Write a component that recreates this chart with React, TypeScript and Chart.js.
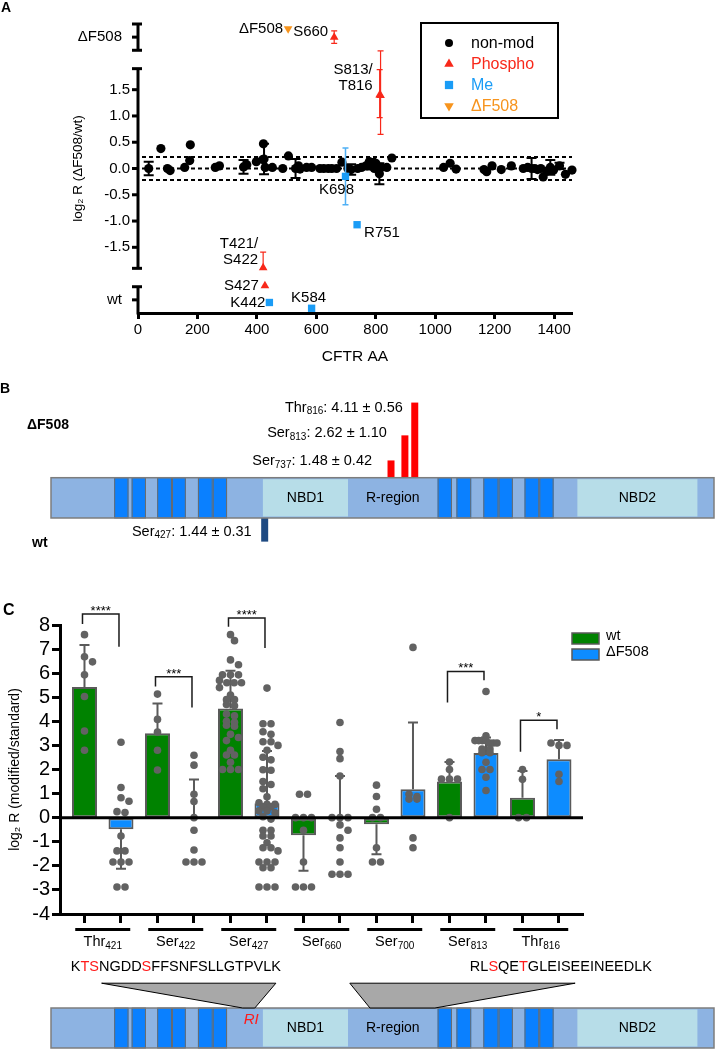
import React, { useEffect, useRef } from 'react';
import { Chart, registerables } from 'chart.js';

Chart.register(...registerables);

const FONT = "'Liberation Sans', Arial, Helvetica, sans-serif";

/* ================= Panel A data ================= */
const nonModResidue = [
  36, 77, 99, 108, 157, 174, 176, 260,
  274, 355, 366, 398, 420, 422, 424, 428,
  452, 487, 506, 530, 540, 545, 567, 584,
  612, 625, 640, 652, 668, 686, 706, 717,
  739, 752, 767, 778, 785, 795, 800, 812,
  818, 837, 854, 1028, 1050, 1070, 1164, 1173,
  1191, 1222, 1256, 1296, 1311, 1324, 1335, 1344,
  1355, 1363, 1375, 1387, 1398, 1418, 1438, 1460,
];
const nonModLog2R = [
  0.0, 0.38, 0.0, -0.04, 0.02, 0.15, 0.45, 0.02,
  0.05, 0.03, 0.07, 0.13, 0.17, 0.47, 0.18, 0.02,
  0.02, 0.0, 0.24, 0.0, 0.05, -0.01, 0.02, 0.02,
  0.0, 0.0, 0.0, 0.0, 0.0, 0.12, 0.0, -0.02,
  0.0, 0.02, 0.05, 0.13, 0.08, 0.0, 0.1, -0.1,
  0.02, 0.02, 0.2, 0.02, 0.1, -0.01, -0.02, -0.06,
  0.05, -0.02, 0.05, 0.0, 0.02, 0.0, 0.0, -0.02,
  0.0, -0.16, -0.05, 0.02, -0.03, 0.05, -0.11, -0.03,
];
const nonModSD = [
  0.13, 0, 0, 0, 0, 0, 0, 0,
  0, 0.13, 0, 0, 0, 0, 0.29, 0,
  0, 0, 0, 0.18, 0, 0, 0, 0,
  0, 0, 0, 0, 0, 0, 0, 0.1,
  0, 0, 0, 0, 0.1, 0, 0, 0.2,
  0, 0, 0, 0, 0, 0, 0, 0,
  0, 0, 0, 0, 0, 0.2, 0, 0,
  0, 0, 0, 0.14, 0, 0.06, 0, 0,
];

const phosphoResidue = [421, 427, 660, 813, 816];
const phosphoLog2R = [-1.89, -2.23, 2.5, 1.4, 1.39];
const phosphoErrLow = [0, 0, 0.12, 0.43, 0.74];
const phosphoErrHigh = [0.3, 0, 0.12, 0.48, 0.85];

const meResidue = [442, 584, 698, 737];
const meLog2R = [-2.55, -2.66, -0.15, -1.07];
const meErr = [0.05, 0, 0.54, 0];

const df508Residue = [505];
const df508Log2R = [2.66];

const aYTicks = [-1.5, -1, -0.5, 0, 0.5, 1, 1.5];
const aThresholds = [-0.22, 0, 0.22];
const aAxisSegLow = [-2.75, -1.9, 2.25];
const aAxisSegHigh = [-2.25, 1.9, 2.75];
const aBandMid = [-2.5, 2.5];
const aBandLabels = ['wt', 'ΔF508'];

const aLabelText = [['ΔF508'], ['S660'], ['S813/', 'T816'], ['T421/', 'S422'], ['S427'], ['K442'], ['K584'], ['K698'], ['R751']];
const aLabelDataset = [3, 1, 1, 1, 1, 2, 2, 2, 2];
const aLabelPoint = [0, 2, 3, 0, 1, 0, 1, 2, 3];
// label placement (style)
const aLabelDx = [-5, -6, -7, -5, -6, -4, -3, -9, 7];
const aLabelDy = [0, -5, -25, -24, 0, 0, -10, 13, 8];
const aLabelAlign = ['right', 'right', 'right', 'right', 'right', 'right', 'center', 'center', 'left'];

/* ================= Domain diagram data ================= */
const proteinLength = 1480;
const tmStart = [141, 180, 237, 270, 328, 361, 863, 905, 965, 999, 1057, 1090];
const tmEnd = [173, 212, 270, 301, 361, 393, 895, 938, 999, 1031, 1090, 1122];
const domainName = ['NBD1', 'R-region', 'NBD2'];
const domainStart = [473, 663, 1175];
const domainEnd = [663, 863, 1443];
const domainPale = [true, false, true];

/* ================= Panel B data ================= */
const bDfSite = ['Ser', 'Ser', 'Thr'];
const bDfNum = [737, 813, 816];
const bDfMean = [1.48, 2.62, 4.11];
const bDfSD = [0.42, 1.1, 0.56];
const bDfPos = [759, 790, 812];
const bWtSite = ['Ser'];
const bWtNum = [427];
const bWtMean = [1.44];
const bWtSD = [0.31];
const bWtPos = [477];
const B_WT_BASE = -0.77;
const bDfLabelDx = [-19, -18, -12];
const bDfLabelDy = [1, -2, 5];

/* ================= Panel C data ================= */
const cSiteName = ['Thr', 'Ser', 'Ser', 'Ser', 'Ser', 'Ser', 'Thr'];
const cSiteNum = [421, 422, 427, 660, 700, 813, 816];
const wtMean = [5.43, 3.51, 4.53, -0.73, -0.27, 1.5, 0.83];
const wtSD = [1.74, 1.23, 1.57, 1.47, 1.25, 0.81, 1.11];
const dfMean = [-0.48, 0.0, 0.6, 0.0, 1.18, 2.68, 2.43];
const dfSD = [1.64, 1.58, 2.17, 1.73, 2.77, 0.65, 0.8];
const wtDots = [
  [7.6, 6.68, 6.47, 5.93, 5.03, 3.6, 2.8],
  [5.13, 4.08, 3.55, 2.8, 1.98],
  [7.6, 7.35, 6.55, 6.35, 5.93, 5.93, 5.93, 5.7, 5.6, 5.6, 5.6, 5.4, 5.09, 4.9, 4.9, 4.7, 4.65, 4.3, 4.23, 4.0, 3.96, 3.84, 3.8, 3.46, 3.33, 3.2, 2.8, 2.6, 2.6, 2.3, 2.0, 2.0, 2.0],
  [0.97, 0.97, 0, 0, 0, -0.52, -1.84, -2.88, -2.88, -2.88],
  [1.35, 0.88, 0.35, 0, 0, -1.25, -1.84, -1.84],
  [2.31, 2.0, 1.6, 1.6, 1.6, 0],
  [2.0, 1.59, 0, 0],
];
const dfDots = [
  [3.13, 1.25, 0.83, 0.68, 0.25, 0.21, -0.76, -1.38, -1.38, -1.84, -1.84, -1.84, -2.88, -2.88],
  [2.59, 2.18, 0.97, 0.67, 0, -0.52, -1.34, -1.84, -1.84, -1.84],
  [5.38, 3.9, 3.9, 3.57, 3.46, 3.15, 3.15, 3.0, 2.8, 2.51, 2.4, 1.99, 1.97, 1.5, 1.38, 1.2, 0.87, 0.62, 0.55, 0.55, 0.45, 0.45, 0.28, 0.28, 0.2, 0.04, -0.06, -0.52, -0.52, -0.76, -0.76, -1.04, -1.25, -1.25, -1.38, -1.84, -1.84, -1.84, -2.08, -2.08, -2.88, -2.88, -2.88],
  [3.95, 2.75, 2.45, 1.73, 0, 0, 0, -0.3, -0.52, -0.84, -1.25, -1.84, -2.35, -2.35, -2.35],
  [7.07, 0.97, 0.88, 0.77, 0.77, -0.84, -1.25],
  [5.24, 3.4, 3.2, 3.2, 3.2, 3.2, 3.1, 3.1, 3.1, 2.85, 2.85, 2.7, 2.7, 2.3, 2.0, 2.0, 1.68, 1.13],
  [3.1, 3.0, 3.0, 1.8, 1.5],
];
const sigFrom = [0, 2, 4, 10, 12];
const sigTo = [1, 3, 5, 11, 13];
const sigStars = ['****', '***', '****', '***', '*'];
const sigTop = [8.46, 5.85, 8.29, 6.07, 4.05];
const sigLegFrom = [8.04, 5.45, 7.93, 4.78, 2.74];
const sigLegTo = [7.1, 4.57, 7.04, 5.71, 3.67];

const peptideSeq = ['KTSNGDDSFFSNFSLLGTPVLK', 'RLSQETGLEISEEINEEDLK'];
const peptideRed = [[1, 2, 7], [2, 5]];
const peptideTextStart = [44, 935];
const peptideTopStart = [113, 667];
const peptideTopEnd = [502, 1170];
const peptideBottomStart = [428, 712];
const peptideBottomEnd = [455, 857];

/* ================= colours ================= */
const RED = '#f8281a';
const ME_BLUE = '#1a9cf6';
const ORANGE = '#f7941d';
const LIGHT = '#8db3e2';
const DARK = '#0a80ff';
const PALE = '#b7dde8';
const GREEN = '#008200';
const DF_BLUE = '#0d8cff';
const DOT = '#626262';
const EDGE = '#5a5a5a';

/* ================= helpers ================= */
type Part = { t: string; sub?: boolean; color?: string; italic?: boolean; bold?: boolean };
function drawParts(ctx: any, parts: Part[], x: number, y: number, size: number, align: string) {
  const subSize = Math.round(size * 0.68);
  const fontFor = (p: Part) => `${p.italic ? 'italic ' : ''}${p.bold ? 'bold ' : ''}${p.sub ? subSize : size}px ${FONT}`;
  let total = 0;
  for (const p of parts) {
    ctx.font = fontFor(p);
    total += ctx.measureText(p.t).width;
  }
  let cx = align === 'left' ? x : align === 'center' ? x - total / 2 : x - total;
  ctx.textAlign = 'left';
  ctx.textBaseline = 'middle';
  for (const p of parts) {
    ctx.font = fontFor(p);
    ctx.fillStyle = p.color || '#000';
    ctx.fillText(p.t, cx, p.sub ? y + size * 0.28 : y);
    cx += ctx.measureText(p.t).width;
  }
}

function drawMarker(ctx: any, style: string, rot: number, x: number, y: number, r: number, color: string) {
  ctx.fillStyle = color;
  ctx.beginPath();
  if (style === 'circle') {
    ctx.arc(x, y, r, 0, Math.PI * 2);
  } else if (style === 'rect') {
    const s = r * 0.75;
    ctx.rect(x - s, y - s, 2 * s, 2 * s);
  } else {
    const d = rot === 180 ? -1 : 1;
    ctx.moveTo(x, y - d * r);
    ctx.lineTo(x + r * 0.866, y + d * r * 0.5);
    ctx.lineTo(x - r * 0.866, y + d * r * 0.5);
    ctx.closePath();
  }
  ctx.fill();
}

const C_PX_X = 36.5;
const C_PX_Y = 24.1;
function swarm(values: number[], center: number) {
  const sorted = [...values].sort((a, b) => b - a);
  const placed: { px: number; py: number }[] = [];
  const out: { x: number; y: number }[] = [];
  let i = 0;
  while (i < sorted.length) {
    let j = i;
    while (j + 1 < sorted.length && (sorted[i] - sorted[j + 1]) * C_PX_Y < 3) j++;
    const n = j - i + 1;
    if (n > 1) {
      const step = Math.min(8, 22 / (n - 1));
      for (let k = 0; k < n; k++) {
        const dx = (k - (n - 1) / 2) * step;
        placed.push({ px: dx, py: sorted[i + k] * C_PX_Y });
        out.push({ x: center + dx / C_PX_X, y: sorted[i + k] });
      }
    } else {
      const py = sorted[i] * C_PX_Y;
      const cands = [0, 4, -4, 8, -8, 11, -11];
      let best = 0;
      let bestD = -1;
      for (const c of cands) {
        let d = Infinity;
        for (const p of placed) d = Math.min(d, Math.hypot(p.px - c, p.py - py));
        if (d >= 7) { best = c; break; }
        if (d > bestD) { bestD = d; best = c; }
      }
      placed.push({ px: best, py });
      out.push({ x: center + best / C_PX_X, y: sorted[i] });
    }
    i = j + 1;
  }
  return out;
}

/* ================= plugins ================= */
const aDecorPlugin = {
  id: 'aDecor',
  beforeDatasetsDraw(chart: any) {
    const { ctx, chartArea: ca, scales: { y } } = chart;
    ctx.save();
    ctx.strokeStyle = '#000';
    ctx.lineWidth = 2;
    ctx.setLineDash([4, 3]);
    aThresholds.forEach((v) => {
      const py = y.getPixelForValue(v);
      ctx.beginPath();
      ctx.moveTo(ca.left + 4, py);
      ctx.lineTo(ca.right, py);
      ctx.stroke();
    });
    ctx.setLineDash([]);
    const ax = ca.left;
    ctx.lineWidth = 3;
    aAxisSegLow.forEach((lo, i) => {
      const hi = aAxisSegHigh[i];
      ctx.beginPath();
      ctx.moveTo(ax, y.getPixelForValue(lo) + (lo <= y.min ? 1.5 : 0));
      ctx.lineTo(ax, y.getPixelForValue(hi));
      ctx.stroke();
      [lo, hi].forEach((v) => {
        if (v <= y.min) return;
        const p = y.getPixelForValue(v);
        ctx.beginPath();
        ctx.moveTo(ax - 6, p);
        ctx.lineTo(ax + 4, p);
        ctx.stroke();
      });
    });
    [...aYTicks, ...aBandMid].forEach((v) => {
      const p = y.getPixelForValue(v);
      ctx.beginPath();
      ctx.moveTo(ax - 6, p);
      ctx.lineTo(ax, p);
      ctx.stroke();
    });
    ctx.fillStyle = '#000';
    ctx.font = `15px ${FONT}`;
    ctx.textAlign = 'right';
    ctx.textBaseline = 'middle';
    aBandMid.forEach((v, i) => ctx.fillText(aBandLabels[i], ax - 16, y.getPixelForValue(v)));
    ctx.restore();
  },
  beforeDatasetDraw(chart: any, args: any) {
    const ds = chart.data.datasets[args.index];
    if (!ds.errLow) return;
    const { ctx, scales: { y } } = chart;
    ctx.save();
    ctx.strokeStyle = ds.errColor;
    ctx.lineWidth = ds.errWidth;
    args.meta.data.forEach((el: any, i: number) => {
      const lo = ds.errLow[i] || 0;
      const hi = ds.errHigh[i] || 0;
      if (!lo && !hi) return;
      const v = ds.data[i].y;
      const pTop = y.getPixelForValue(v + hi);
      const pBot = y.getPixelForValue(v - lo);
      const c = ds.errCap;
      ctx.beginPath();
      ctx.moveTo(el.x, pBot);
      ctx.lineTo(el.x, pTop);
      if (hi) { ctx.moveTo(el.x - c, pTop); ctx.lineTo(el.x + c, pTop); }
      if (lo) { ctx.moveTo(el.x - c, pBot); ctx.lineTo(el.x + c, pBot); }
      ctx.stroke();
    });
    ctx.restore();
  },
  afterDraw(chart: any) {
    const { ctx, chartArea: ca } = chart;
    ctx.save();
    aLabelText.forEach((lines, k) => {
      const el = chart.getDatasetMeta(aLabelDataset[k]).data[aLabelPoint[k]];
      ctx.font = `15px ${FONT}`;
      ctx.fillStyle = '#000';
      ctx.textAlign = aLabelAlign[k];
      ctx.textBaseline = 'middle';
      lines.forEach((ln, li) => ctx.fillText(ln, el.x + aLabelDx[k], el.y + aLabelDy[k] + li * 16));
    });
    const bx = ca.left + 283;
    const by = ca.top - 1;
    ctx.lineWidth = 2;
    ctx.strokeStyle = '#000';
    ctx.strokeRect(bx, by, 137, 95);
    chart.data.datasets.forEach((ds: any, i: number) => {
      const ry = by + 20 + i * 21;
      drawMarker(ctx, ds.pointStyle, ds.pointRotation || 0, bx + 28, ry, ds.pointStyle === 'circle' ? 4 : 5.5, ds.backgroundColor);
      ctx.font = `16px ${FONT}`;
      ctx.fillStyle = ds.legendColor;
      ctx.textAlign = 'left';
      ctx.textBaseline = 'middle';
      ctx.fillText(ds.label, bx + 50, ry + 1);
    });
    ctx.restore();
  },
};

const domainPlugin = {
  id: 'domainBar',
  afterDatasetsDraw(chart: any, _args: any, opts: any) {
    const { ctx, scales: { x, y } } = chart;
    const top = y.getPixelForValue(opts.yTop);
    const bot = y.getPixelForValue(opts.yBottom);
    const h = bot - top;
    const X = (v: number) => x.getPixelForValue(v);
    ctx.save();
    ctx.fillStyle = LIGHT;
    ctx.fillRect(X(0), top, X(proteinLength) - X(0), h);
    domainName.forEach((_n, i) => {
      if (!domainPale[i]) return;
      ctx.fillStyle = PALE;
      ctx.fillRect(X(domainStart[i]), top + 1.5, X(domainEnd[i]) - X(domainStart[i]), h - 3);
    });
    tmStart.forEach((s, i) => {
      ctx.fillStyle = DARK;
      ctx.fillRect(X(s), top, X(tmEnd[i]) - X(s), h);
      ctx.strokeStyle = '#6b6b6b';
      ctx.lineWidth = 1;
      ctx.strokeRect(X(s) + 0.5, top, X(tmEnd[i]) - X(s) - 1, h);
    });
    ctx.strokeStyle = '#7d7d7d';
    ctx.lineWidth = 1.5;
    ctx.strokeRect(X(0), top, X(proteinLength) - X(0), h);
    domainName.forEach((n, i) => {
      drawParts(ctx, [{ t: n }], (X(domainStart[i]) + X(domainEnd[i])) / 2, top + h / 2, 14, 'center');
    });
    ctx.restore();
  },
};

const bLabelPlugin = {
  id: 'bLabels',
  afterDraw(chart: any) {
    const { ctx } = chart;
    ctx.save();
    const dfMeta = chart.getDatasetMeta(0);
    dfMeta.data.forEach((el: any, i: number) => {
      drawParts(ctx, [{ t: bDfSite[i] }, { t: String(bDfNum[i]), sub: true }, { t: `: ${bDfMean[i].toFixed(2)} ± ${bDfSD[i].toFixed(2)}` }],
        el.x + bDfLabelDx[i], el.y + bDfLabelDy[i], 14.5, 'right');
    });
    const wtMeta = chart.getDatasetMeta(1);
    wtMeta.data.forEach((el: any, i: number) => {
      drawParts(ctx, [{ t: bWtSite[i] }, { t: String(bWtNum[i]), sub: true }, { t: `: ${bWtMean[i].toFixed(2)} ± ${bWtSD[i].toFixed(2)}` }],
        el.x - 13, el.y - 10, 14.5, 'right');
    });
    drawParts(ctx, [{ t: 'ΔF508', bold: true }], 27, 55, 14, 'left');
    drawParts(ctx, [{ t: 'wt', bold: true }], 32, 173, 14, 'left');
    ctx.restore();
  },
};

const cDecorPlugin = {
  id: 'cDecor',
  afterDatasetDraw(chart: any, args: any) {
    const ds = chart.data.datasets[args.index];
    if (!ds.sd) return;
    const { ctx, scales: { y } } = chart;
    ctx.save();
    ctx.strokeStyle = EDGE;
    ctx.lineWidth = 2;
    args.meta.data.forEach((el: any, i: number) => {
      const m = ds.data[i].y;
      const dir = m < 0 ? -1 : 1;
      const p0 = y.getPixelForValue(m);
      const p1 = y.getPixelForValue(m + dir * ds.sd[i]);
      ctx.beginPath();
      ctx.moveTo(el.x, p0);
      ctx.lineTo(el.x, p1);
      ctx.moveTo(el.x - 5, p1);
      ctx.lineTo(el.x + 5, p1);
      ctx.stroke();
    });
    ctx.restore();
  },
  afterDatasetsDraw(chart: any) {
    const { ctx, chartArea: ca, scales: { x, y } } = chart;
    ctx.save();
    ctx.strokeStyle = '#000';
    ctx.lineWidth = 3;
    const p0 = y.getPixelForValue(0);
    ctx.beginPath();
    ctx.moveTo(ca.left, p0);
    ctx.lineTo(ca.right, p0);
    ctx.stroke();
    ctx.lineWidth = 1.5;
    ctx.strokeStyle = '#1a1a1a';
    sigFrom.forEach((a, k) => {
      const xa = x.getPixelForValue(a) - 2;
      const xb = x.getPixelForValue(sigTo[k]) - 2;
      const yt = y.getPixelForValue(sigTop[k]);
      ctx.beginPath();
      ctx.moveTo(xa, y.getPixelForValue(sigLegFrom[k]));
      ctx.lineTo(xa, yt);
      ctx.lineTo(xb, yt);
      ctx.lineTo(xb, y.getPixelForValue(sigLegTo[k]));
      ctx.stroke();
      ctx.font = `13px ${FONT}`;
      ctx.fillStyle = '#000';
      ctx.textAlign = 'center';
      ctx.textBaseline = 'alphabetic';
      ctx.fillText(sigStars[k], (xa + xb) / 2, yt + 1);
    });
    ctx.restore();
  },
  afterDraw(chart: any) {
    const { ctx, chartArea: ca, scales: { x } } = chart;
    ctx.save();
    cSiteName.forEach((n, g) => {
      const cx = x.getPixelForValue(2 * g + 0.5);
      ctx.strokeStyle = '#000';
      ctx.lineWidth = 3;
      ctx.beginPath();
      ctx.moveTo(cx - 27.5, ca.bottom + 15.5);
      ctx.lineTo(cx + 27.5, ca.bottom + 15.5);
      ctx.stroke();
      drawParts(ctx, [{ t: n }, { t: String(cSiteNum[g]), sub: true }], cx, ca.bottom + 28, 14.5, 'center');
    });
    const bars = chart.data.datasets.filter((d: any) => d.type === 'bar');
    bars.forEach((ds: any, i: number) => {
      const sy = 43 + i * 16;
      ctx.fillStyle = ds.backgroundColor;
      ctx.fillRect(572, sy, 27, 11);
      ctx.strokeStyle = EDGE;
      ctx.lineWidth = 1.5;
      ctx.strokeRect(572, sy, 27, 11);
      drawParts(ctx, [{ t: ds.label }], 606, sy + 3, 14.5, 'left');
    });
    ctx.restore();
  },
};

const seqPlugin = {
  id: 'seq',
  afterDraw(chart: any) {
    const { ctx, scales: { x, y } } = chart;
    ctx.save();
    const yTop = y.getPixelForValue(1.62);
    const yBot = y.getPixelForValue(1);
    peptideTopStart.forEach((s, i) => {
      ctx.beginPath();
      ctx.moveTo(x.getPixelForValue(s), yTop);
      ctx.lineTo(x.getPixelForValue(peptideTopEnd[i]), yTop);
      ctx.lineTo(x.getPixelForValue(peptideBottomEnd[i]), yBot);
      ctx.lineTo(x.getPixelForValue(peptideBottomStart[i]), yBot);
      ctx.closePath();
      ctx.fillStyle = '#a8a8a8';
      ctx.fill();
      ctx.strokeStyle = '#000';
      ctx.lineWidth = 1;
      ctx.stroke();
    });
    peptideSeq.forEach((seq, i) => {
      const parts = seq.split('').map((ch, k) => ({ t: ch, color: peptideRed[i].includes(k) ? '#ff1a1a' : '#000' }));
      drawParts(ctx, parts, x.getPixelForValue(peptideTextStart[i]), y.getPixelForValue(2.03), 14.5, 'left');
    });
    drawParts(ctx, [{ t: 'RI', italic: true, color: '#ff1a1a' }], x.getPixelForValue(447), y.getPixelForValue(0.7), 15, 'center');
    ctx.restore();
  },
};

/* ================= configs ================= */
const noPlugins = { legend: { display: false }, tooltip: { enabled: false } };

function configA(): any {
  return {
    type: 'scatter',
    data: {
      datasets: [
        {
          label: 'non-mod', data: nonModResidue.map((r, i) => ({ x: r, y: nonModLog2R[i] })),
          pointStyle: 'circle', pointRadius: 4.6, backgroundColor: '#000', borderWidth: 0, legendColor: '#000',
          errLow: nonModSD, errHigh: nonModSD, errColor: '#000', errWidth: 2, errCap: 5, order: 3, clip: false,
        },
        {
          label: 'Phospho', data: phosphoResidue.map((r, i) => ({ x: r, y: phosphoLog2R[i] })),
          pointStyle: 'triangle', pointRadius: 5, backgroundColor: RED, borderWidth: 0, legendColor: RED,
          errLow: phosphoErrLow, errHigh: phosphoErrHigh, errColor: RED, errWidth: 1.2, errCap: 3, order: 2, clip: false,
        },
        {
          label: 'Me', data: meResidue.map((r, i) => ({ x: r, y: meLog2R[i] })),
          pointStyle: 'rect', pointRadius: 5.2, backgroundColor: ME_BLUE, borderWidth: 0, legendColor: ME_BLUE,
          errLow: meErr, errHigh: meErr, errColor: '#4fb0f5', errWidth: 1.5, errCap: 3, order: 1, clip: false,
        },
        {
          label: 'ΔF508', data: df508Residue.map((r, i) => ({ x: r, y: df508Log2R[i] })),
          pointStyle: 'triangle', pointRotation: 180, pointRadius: 5, backgroundColor: ORANGE, borderWidth: 0,
          legendColor: ORANGE, order: 0, clip: false,
        },
      ],
    },
    options: {
      responsive: false, animation: false, devicePixelRatio: 1, events: [],
      layout: { padding: { top: 24, right: 143, bottom: 0, left: 0 } },
      plugins: noPlugins,
      scales: {
        x: {
          type: 'linear', min: 0, max: 1460,
          border: { display: true, color: '#000', width: 3 },
          grid: { display: true, drawOnChartArea: false, drawTicks: true, tickLength: 6, tickWidth: 3, tickColor: '#000', color: '#000' },
          ticks: { stepSize: 200, includeBounds: false, font: { family: FONT, size: 15 }, color: '#000', padding: 2, maxRotation: 0, autoSkip: false, callback: (v: any) => String(v) },
          title: { display: true, text: 'CFTR AA', font: { family: FONT, size: 15.5 }, color: '#000', padding: { top: 0, bottom: 4 } },
          afterFit: (s: any) => { s.height = 57; },
        },
        y: {
          type: 'linear', min: -2.75, max: 2.75,
          border: { display: false },
          grid: { display: false, drawTicks: false },
          afterBuildTicks: (s: any) => { s.ticks = aYTicks.map((v) => ({ value: v })); },
          ticks: { font: { family: FONT, size: 15 }, color: '#000', padding: 8, autoSkip: false, callback: (v: any) => Number(v).toFixed(1) },
          title: { display: true, text: 'log₂ R (ΔF508/wt)', font: { family: FONT, size: 13.5 }, color: '#000', padding: { top: 70, bottom: 0 } },
          afterFit: (s: any) => { s.width = 138; },
        },
      },
    },
    plugins: [aDecorPlugin],
  };
}

function configB(): any {
  return {
    type: 'bar',
    data: {
      datasets: [
        {
          label: 'ΔF508', data: bDfPos.map((p, i) => ({ x: p, y: [0, bDfMean[i]] })),
          backgroundColor: '#ff0000', borderWidth: 0, grouped: false, maxBarThickness: 7,
        },
        {
          label: 'wt', data: bWtPos.map((p, i) => ({ x: p, y: [B_WT_BASE, B_WT_BASE - bWtMean[i]] })),
          backgroundColor: '#1e4a82', borderWidth: 0, grouped: false, maxBarThickness: 7,
        },
      ],
    },
    options: {
      responsive: false, animation: false, devicePixelRatio: 1, events: [],
      layout: { padding: { top: 13, right: 1, bottom: 12, left: 51 } },
      plugins: { ...noPlugins, domainBar: { yTop: 0.695, yBottom: -1.136 } },
      scales: {
        x: { type: 'linear', min: 0, max: proteinLength, display: false, offset: false, grid: { offset: false } },
        y: { type: 'linear', min: -2.5, max: 5, display: false, stacked: false },
      },
    },
    plugins: [domainPlugin, bLabelPlugin],
  };
}

function configC(): any {
  const wtPts = wtDots.flatMap((vals, g) => swarm(vals, 2 * g));
  const dfPts = dfDots.flatMap((vals, g) => swarm(vals, 2 * g + 1));
  return {
    type: 'bar',
    data: {
      datasets: [
        { type: 'scatter', label: 'wt values', data: wtPts, pointRadius: 3.8, backgroundColor: DOT, borderWidth: 0, order: 0, clip: false },
        { type: 'scatter', label: 'ΔF508 values', data: dfPts, pointRadius: 3.8, backgroundColor: DOT, borderWidth: 0, order: 0, clip: false },
        {
          type: 'bar', label: 'wt', data: wtMean.map((m, g) => ({ x: 2 * g, y: m })), sd: wtSD,
          backgroundColor: GREEN, borderColor: EDGE, borderWidth: 2, borderSkipped: false, grouped: false, maxBarThickness: 25, order: 1,
        },
        {
          type: 'bar', label: 'ΔF508', data: dfMean.map((m, g) => ({ x: 2 * g + 1, y: m })), sd: dfSD,
          backgroundColor: DF_BLUE, borderColor: EDGE, borderWidth: 2, borderSkipped: false, grouped: false, maxBarThickness: 25, order: 1,
        },
      ],
    },
    options: {
      responsive: false, animation: false, devicePixelRatio: 1, events: [],
      layout: { padding: { top: 35, right: 132, bottom: 0, left: 0 } },
      plugins: noPlugins,
      scales: {
        x: {
          type: 'linear', min: -0.671, max: 13.658, offset: false,
          border: { display: true, color: '#000', width: 3 },
          grid: { display: true, offset: false, drawOnChartArea: false, drawTicks: true, tickLength: 9, tickWidth: 3, tickColor: '#000', color: '#000' },
          afterBuildTicks: (s: any) => { s.ticks = Array.from({ length: 14 }, (_, i) => ({ value: i })); },
          ticks: { display: false },
          afterFit: (s: any) => { s.height = 46; },
        },
        y: {
          type: 'linear', min: -4, max: 8,
          border: { display: true, color: '#000', width: 3 },
          grid: { display: true, drawOnChartArea: false, drawTicks: true, tickLength: 8, tickWidth: 3, tickColor: '#000', color: '#000' },
          afterBuildTicks: (s: any) => { s.ticks = Array.from({ length: 13 }, (_, i) => ({ value: i - 4 })); },
          ticks: { font: { family: FONT, size: 20 }, color: '#000', padding: 2, autoSkip: false },
          title: { display: true, text: 'log₂ R (modified/standard)', font: { family: FONT, size: 14 }, color: '#000', padding: { top: 7, bottom: 0 } },
          afterFit: (s: any) => { s.width = 60; },
        },
      },
    },
    plugins: [cDecorPlugin],
  };
}

function configD(): any {
  return {
    type: 'scatter',
    data: { datasets: [] },
    options: {
      responsive: false, animation: false, devicePixelRatio: 1, events: [],
      layout: { padding: { top: 0, right: 1, bottom: 2, left: 51 } },
      plugins: { ...noPlugins, domainBar: { yTop: 1, yBottom: 0 } },
      scales: {
        x: { type: 'linear', min: 0, max: proteinLength, display: false },
        y: { type: 'linear', min: 0, max: 2.45, display: false },
      },
    },
    plugins: [domainPlugin, seqPlugin],
  };
}

export default function App() {
  const aRef = useRef<HTMLCanvasElement>(null);
  const bRef = useRef<HTMLCanvasElement>(null);
  const cRef = useRef<HTMLCanvasElement>(null);
  const dRef = useRef<HTMLCanvasElement>(null);

  useEffect(() => {
    const charts = [
      new Chart(aRef.current as HTMLCanvasElement, configA()),
      new Chart(bRef.current as HTMLCanvasElement, configB()),
      new Chart(cRef.current as HTMLCanvasElement, configC()),
      new Chart(dRef.current as HTMLCanvasElement, configD()),
    ];
    return () => charts.forEach((c) => c.destroy());
  }, []);

  const letter = (t: string, left: number, top: number, size: number) => (
    <div style={{ position: 'absolute', left, top, fontFamily: FONT, fontWeight: 'bold', fontSize: size, lineHeight: `${size}px`, color: '#000' }}>{t}</div>
  );

  return (
    <div style={{ position: 'absolute', left: 0, top: 0, width: 715, height: 1050, background: '#fff', overflow: 'hidden' }}>
      <canvas ref={aRef} width={715} height={370} style={{ position: 'absolute', left: 0, top: 0 }} />
      <canvas ref={bRef} width={715} height={190} style={{ position: 'absolute', left: 0, top: 370 }} />
      <canvas ref={cRef} width={715} height={370} style={{ position: 'absolute', left: 0, top: 590 }} />
      <canvas ref={dRef} width={715} height={100} style={{ position: 'absolute', left: 0, top: 950 }} />
      {letter('A', 1, 0, 14)}
      {letter('B', 0, 381, 14)}
      {letter('C', 3, 602, 16)}
    </div>
  );
}
